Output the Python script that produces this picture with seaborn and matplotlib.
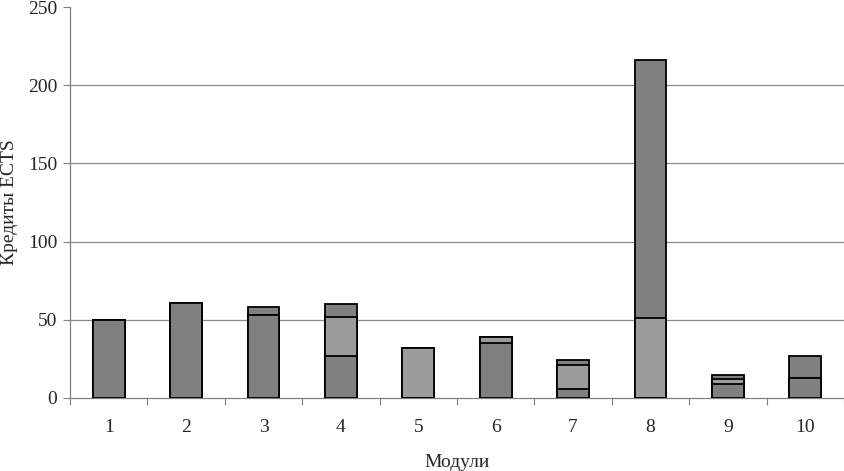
import matplotlib
matplotlib.use("Agg")
import matplotlib.pyplot as plt
import seaborn as sns
import numpy as np
import pandas as pd

modules = ["1", "2", "3", "4", "5", "6", "7", "8", "9", "10"]
seg_bottom = [50, 61, 53, 27, 0, 35, 6, 0, 9, 13]      # dark
seg_middle = [0, 0, 0, 25, 32, 4, 15, 51, 3, 0]        # light
seg_top = [0, 0, 5, 8, 0, 0, 3, 165, 3, 14]            # dark
y_ticks = [0, 50, 100, 150, 200, 250]

dark = "#808080"
light = "#9c9c9c"

sns.set_theme(style="white")
plt.rcParams["font.family"] = ["Liberation Serif", "DejaVu Serif"]

df = pd.DataFrame({"module": modules,
                   "b": seg_bottom, "m": seg_middle, "t": seg_top})
df["c1"] = df["b"]
df["c2"] = df["b"] + df["m"]
df["c3"] = df["b"] + df["m"] + df["t"]

fig = plt.figure(figsize=(8.45, 4.71), dpi=100)
ax = fig.add_axes([70 / 845, 1 - 398 / 471, 774 / 845, 391 / 471])

for col, c in [("c3", dark), ("c2", light), ("c1", dark)]:
    sns.barplot(data=df, x="module", y=col, order=modules, color=c,
                saturation=1, width=0.41, edgecolor="black", linewidth=1.3,
                ax=ax, errorbar=None, zorder=3)

ax.set_ylim(0, 250)
ax.set_xlim(-0.5, 9.5)
ax.set_yticks(y_ticks)
for v in y_ticks[1:-1]:
    ax.axhline(v, color="#8a8a8a", lw=0.9, zorder=1)

ax.set_xticks(range(len(modules)))
ax.set_xticklabels(modules)
ax.set_xticks(np.arange(-0.5, 10, 1), minor=True)
ax.tick_params(axis="x", which="major", length=0, pad=15, labelsize=14)
ax.tick_params(axis="x", which="minor", length=5, width=0.8, color="#808080",
               direction="out", bottom=True)
ax.tick_params(axis="y", which="major", length=5, width=0.8, color="#808080",
               direction="out", left=True, labelsize=14, pad=4)

for s in ["top", "right"]:
    ax.spines[s].set_visible(False)
for s in ["left", "bottom"]:
    ax.spines[s].set_color("#808080")
    ax.spines[s].set_linewidth(0.9)

ax.set_ylabel("Кредиты ECTS", fontsize=14, labelpad=7)
ax.set_xlabel("Модули", fontsize=14, labelpad=13)

fig.savefig("out.png", dpi=100)
